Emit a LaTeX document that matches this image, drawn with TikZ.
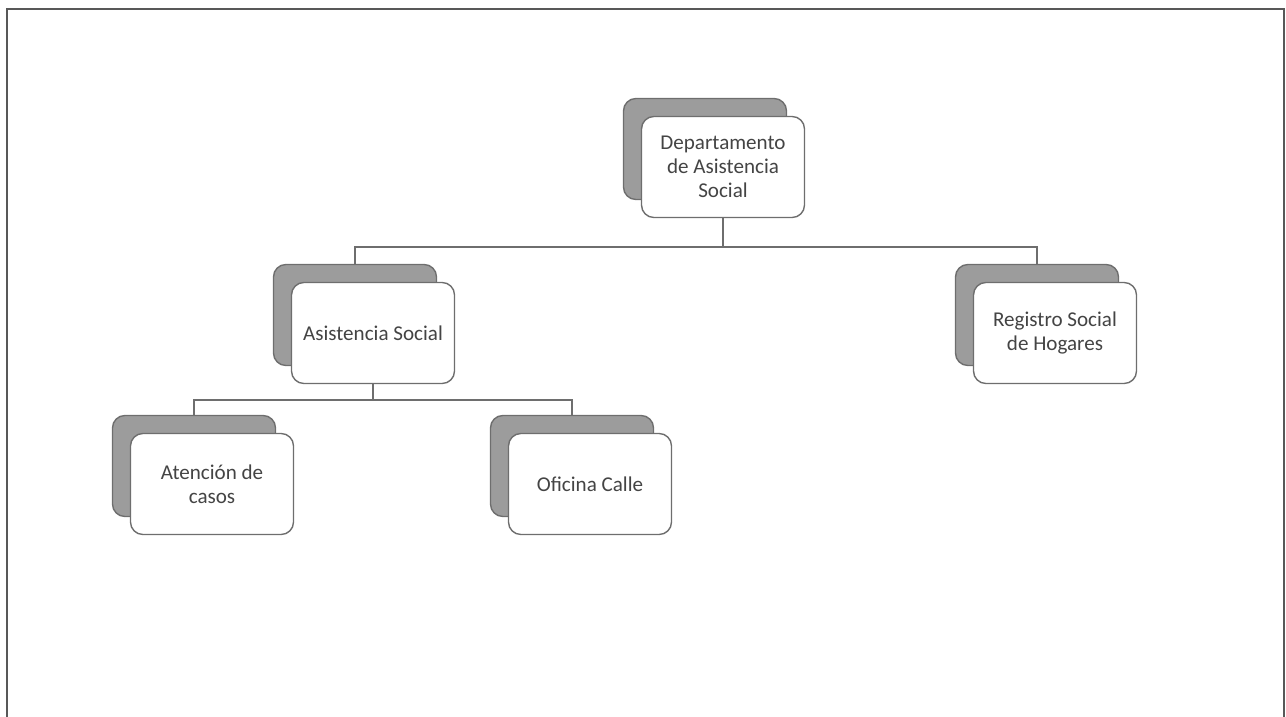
\documentclass[tikz,border=0pt]{standalone}
\usepackage{fontspec}
\setmainfont{Carlito}
\usetikzlibrary{positioning,calc}
\definecolor{boxgray}{HTML}{9C9C9C}
\definecolor{edgegray}{HTML}{6E6E6E}
\definecolor{textgray}{HTML}{444444}

\begin{document}
\begin{tikzpicture}[x=0.02cm,y=-0.02cm,
    backbox/.style={draw=edgegray, fill=boxgray, line width=0.8pt, rounded corners=7pt,
      minimum width=3.26cm, minimum height=2.02cm},
    frontbox/.style={draw=edgegray, fill=white, line width=0.8pt, rounded corners=7pt,
      minimum width=3.26cm, minimum height=2.02cm, align=center, text=textgray,
      font=\fontsize{12}{13.5}\selectfont},
    link/.style={draw=edgegray, line width=0.6pt}]
  \useasboundingbox (0,0) rectangle (1286,717);

  % Frame
  \draw[edgegray!80!black, line width=1.6pt] (7,717) -- (7,9) -- (1284,9) -- (1284,717);

  % Back boxes
  \node[backbox] (dept-b)  at (705,149) {};
  \node[backbox] (asist-b) at (355,315) {};
  \node[backbox] (reg-b)   at (1037,315) {};
  \node[backbox] (aten-b)  at (194,466) {};
  \node[backbox] (ofic-b)  at (572,466) {};

  % Connectors
  \coordinate (bus1) at (723,247);
  \coordinate (bus2) at (373,400);
  \draw[link] (asist-b.north) |- (bus1) -| (reg-b.north);
  \draw[link] (aten-b.north) |- (bus2) -| (ofic-b.north);

  % Front boxes
  \node[frontbox] (dept)  at (723,167) {Departamento\\de Asistencia\\Social};
  \node[frontbox] (asist) at (373,333) {Asistencia Social};
  \node[frontbox] (reg)   at (1055,333) {Registro Social\\de Hogares};
  \node[frontbox] (aten)  at (212,484) {Atención de\\casos};
  \node[frontbox] (ofic)  at (590,484) {Oficina Calle};

  \draw[link] (dept.south) -- (bus1);
  \draw[link] (asist.south) -- (bus2);
\end{tikzpicture}
\end{document}
